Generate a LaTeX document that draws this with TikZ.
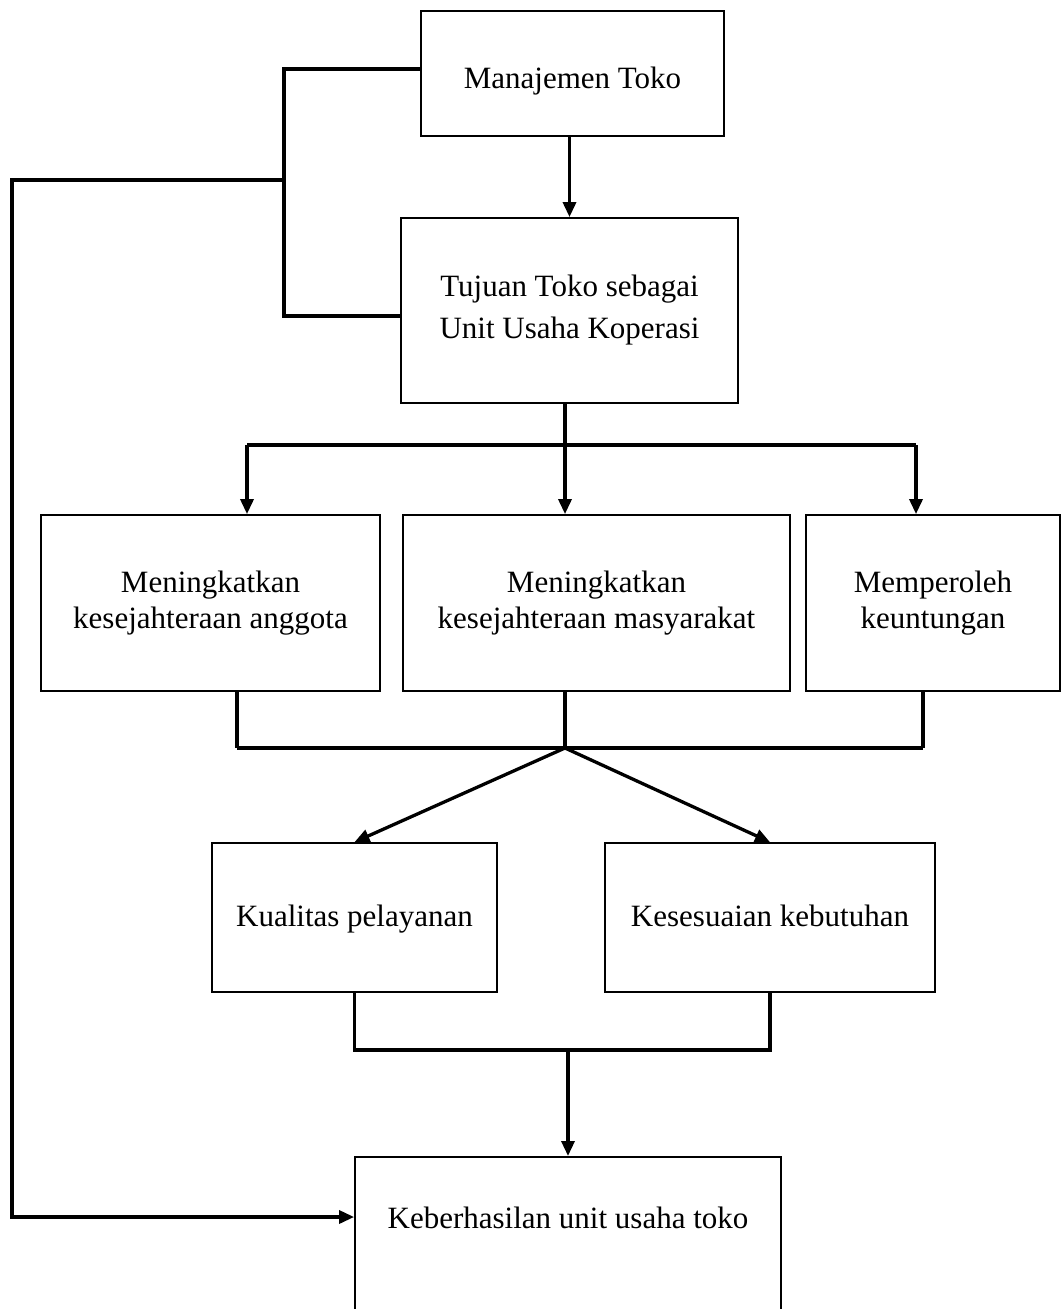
\documentclass[tikz,border=0pt]{standalone}
\usepackage{fontspec}
\setmainfont{Liberation Serif}
\usetikzlibrary{arrows.meta,positioning}

\begin{document}
\begin{tikzpicture}[x=1pt,y=-1pt,
    kotak/.style={draw,line width=1.8pt,rectangle,align=center,
        font=\fontsize{31}{36}\selectfont,inner sep=0pt},
    garis/.style={line width=3.3pt},
    panah/.style={line width=3.3pt,-{Triangle[length=15pt,width=13pt]}}]
        % ukuran gambar
        \useasboundingbox (0,0) rectangle (1062,1309);

        % Kotak atas
        \node[kotak,minimum width=303,minimum height=125,text height=37pt,text depth=7pt] (mt) at (572.5,73.5) {Manajemen Toko};
        \node[kotak,minimum width=337,minimum height=185] (tk) at (569.5,310.5) {Tujuan Toko sebagai\\[6pt]Unit Usaha Koperasi};

        % Kotak tujuan
        \node[kotak,minimum width=339,minimum height=176] (ang) at (210.5,603) {Meningkatkan\\kesejahteraan anggota};
        \node[kotak,minimum width=387,minimum height=176] (mas) at (596.5,603) {Meningkatkan\\kesejahteraan masyarakat};
        \node[kotak,minimum width=254,minimum height=176] (ung) at (933,603) {Memperoleh\\keuntungan};

        % Kotak faktor
        \node[kotak,minimum width=285,minimum height=149,text height=24pt,text depth=7pt] (kp) at (354.5,917.5) {Kualitas pelayanan};
        \node[kotak,minimum width=330,minimum height=149,text height=24pt,text depth=7pt] (ks) at (770,917.5) {Kesesuaian kebutuhan};

        % Kotak hasil
        \node[kotak,anchor=north,minimum width=426,minimum height=200,
            text height=22pt,text depth=79pt] (hasil) at (568,1156) {Keberhasilan unit usaha toko};

        % Garis kiri
        \coordinate (sambung) at (284,180);
        \draw[garis] (mt.west |- 0,69) -- (284,69) -- (284,316) -- (tk.west |- 0,316);
        \draw[panah] (sambung) -- (12,180) -- (12,1217) -- (hasil.west |- 0,1217);

        % Panah tengah
        \draw[panah] (tk.north |- mt.south) -- (tk.north);
        \draw[garis] (tk.south -| 565,0) -- (565,445);
        \draw[garis] (247,445) -- (916,445);
        \foreach \n/\x in {ang/247,mas/565,ung/916}
            \draw[panah] (\x,445) -- (\n.north -| \x,0);

        % Garis gabung bawah
        \foreach \n/\x in {ang/237,mas/565,ung/923}
            \draw[garis] (\n.south -| \x,0) -- (\x,748);
        \draw[garis] (237,748) -- (923,748);
        \coordinate (temu) at (565,748);
        \draw[panah] (temu) -- (kp.north);
        \draw[panah] (temu) -- (ks.north);

        \draw[garis] (kp.south) -- (kp.south |- 0,1050) -- (ks.south |- 0,1050) -- (ks.south);
        \draw[panah] (hasil.north |- 0,1050) -- (hasil.north);
    \end{tikzpicture}
\end{document}
